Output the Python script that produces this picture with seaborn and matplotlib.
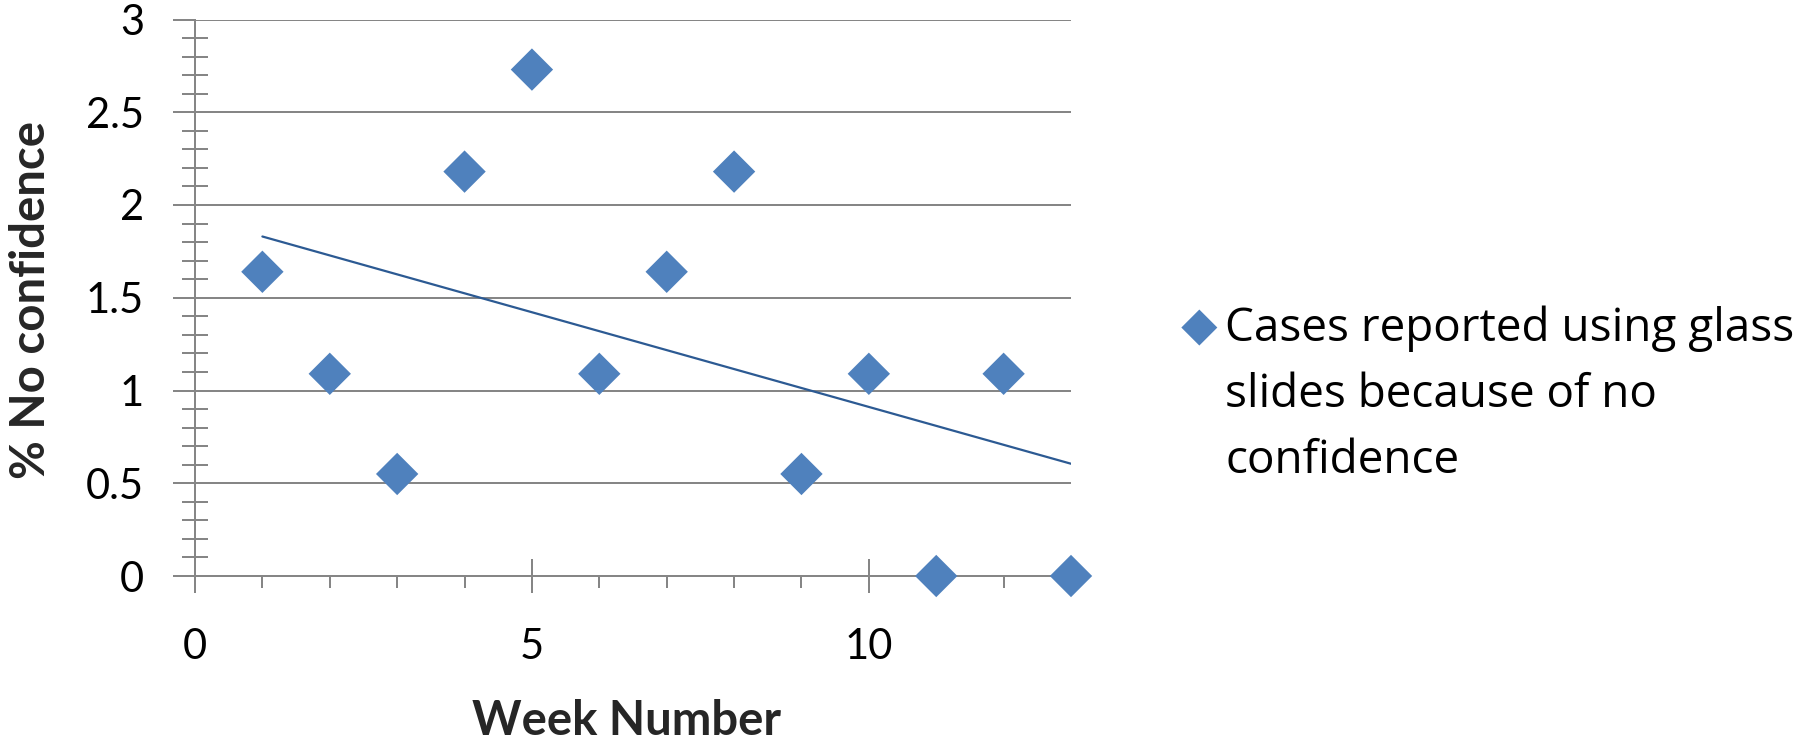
import numpy as np
import pandas as pd
import matplotlib
matplotlib.use("Agg")
import matplotlib.pyplot as plt
from matplotlib.path import Path
from matplotlib.ticker import MultipleLocator
import seaborn as sns

# Weekly share of cases reported on glass slides because of no confidence
weeks = [1, 2, 3, 4, 5, 6, 7, 8, 9, 10, 11, 12, 13]
no_confidence_pct = [1.64, 1.09, 0.55, 2.18, 2.73, 1.09, 1.64, 2.18, 0.55, 1.09, 0.0, 1.09, 0.0]

x_ticks = [0, 5, 10]
x_tick_labels = ["0", "5", "10"]
y_ticks = [0, 0.5, 1, 1.5, 2, 2.5, 3]
y_tick_labels = ["0", "0.5", "1", "1.5", "2", "2.5", "3"]

series_label = "Cases reported using glass\nslides because of no\nconfidence"
x_title = "Week Number"
y_title = "% No confidence"

df = pd.DataFrame({"week": weeks, "pct": no_confidence_pct})

sns.set_style("white")
plt.rcParams["font.family"] = ["Lato", "DejaVu Sans"]
plt.rcParams["text.color"] = "black"
plt.rcParams["xtick.color"] = "black"
plt.rcParams["ytick.color"] = "black"

GRAY = "#868686"
BLUE = "#4F81BD"
TREND = "#2C5A93"
LW = 1.44

fig = plt.figure(figsize=(18, 7.45), dpi=100)
ax = fig.add_axes([195 / 1800, 1 - 576 / 745, (1071 - 195) / 1800, (576 - 19.5) / 745])

diamond = Path([(0, 1), (1, 0), (0, -1), (-1, 0), (0, 1)],
               [Path.MOVETO, Path.LINETO, Path.LINETO, Path.LINETO, Path.CLOSEPOLY])

# Linear trend line across the observed weeks
sns.regplot(data=df, x="week", y="pct", scatter=False, ci=None, truncate=True,
            ax=ax, line_kws=dict(color=TREND, lw=1.6, zorder=3))

# Weekly values
sns.scatterplot(data=df, x="week", y="pct", marker=diamond, s=30.5 ** 2,
                color=BLUE, edgecolor="none", linewidth=0, clip_on=False,
                zorder=4, label=series_label, ax=ax)

ax.set_xlim(0, 13)
ax.set_ylim(0, 3)
ax.set_xticks(x_ticks, x_tick_labels)
ax.set_yticks(y_ticks, y_tick_labels)
ax.xaxis.set_minor_locator(MultipleLocator(1))
ax.yaxis.set_minor_locator(MultipleLocator(0.1))

ax.tick_params(axis="y", which="major", direction="out", length=15.8, width=LW,
               color=GRAY, pad=21, labelsize=30, left=True)
ax.tick_params(axis="y", which="minor", direction="inout", length=19.4, width=LW,
               color=GRAY, left=True)
ax.tick_params(axis="x", which="major", direction="inout", length=24.5, width=LW,
               color=GRAY, pad=25, labelsize=30, bottom=True)
ax.tick_params(axis="x", which="minor", direction="out", length=8.6, width=LW,
               color=GRAY, bottom=True)

ax.set_axisbelow(True)
ax.yaxis.grid(True, which="major", color=GRAY, lw=LW)
ax.xaxis.grid(False)
for side in ("top", "right"):
    ax.spines[side].set_visible(False)
for side in ("left", "bottom"):
    ax.spines[side].set_color(GRAY)
    ax.spines[side].set_linewidth(LW)

ax.set_xlabel(x_title, fontsize=34, fontweight="bold")
ax.set_ylabel(y_title, fontsize=34, fontweight="bold")
ax.xaxis.set_label_coords((627 - 195) / 876, (576 - 721) / 556.5)
ax.xaxis.label.set_va("center")
ax.yaxis.set_label_coords((31 - 195) / 876, (576 - 300) / 556.5)
ax.yaxis.label.set_va("center")
ax.yaxis.label.set_ha("center")

leg = ax.legend(loc="upper left", bbox_to_anchor=(1181 / 1800, 1 - 306 / 745),
                bbox_transform=fig.transFigure, frameon=False,
                prop={"family": ["Open Sans", "DejaVu Sans"], "size": 33},
                handlelength=0.8, handletextpad=0.17, borderpad=0, borderaxespad=0,
                scatterpoints=1, scatteryoffsets=[2.65], markerscale=0.85)
for t in leg.get_texts():
    t.set_linespacing(1.566)

fig.savefig("out.png", dpi=100, facecolor="white")
